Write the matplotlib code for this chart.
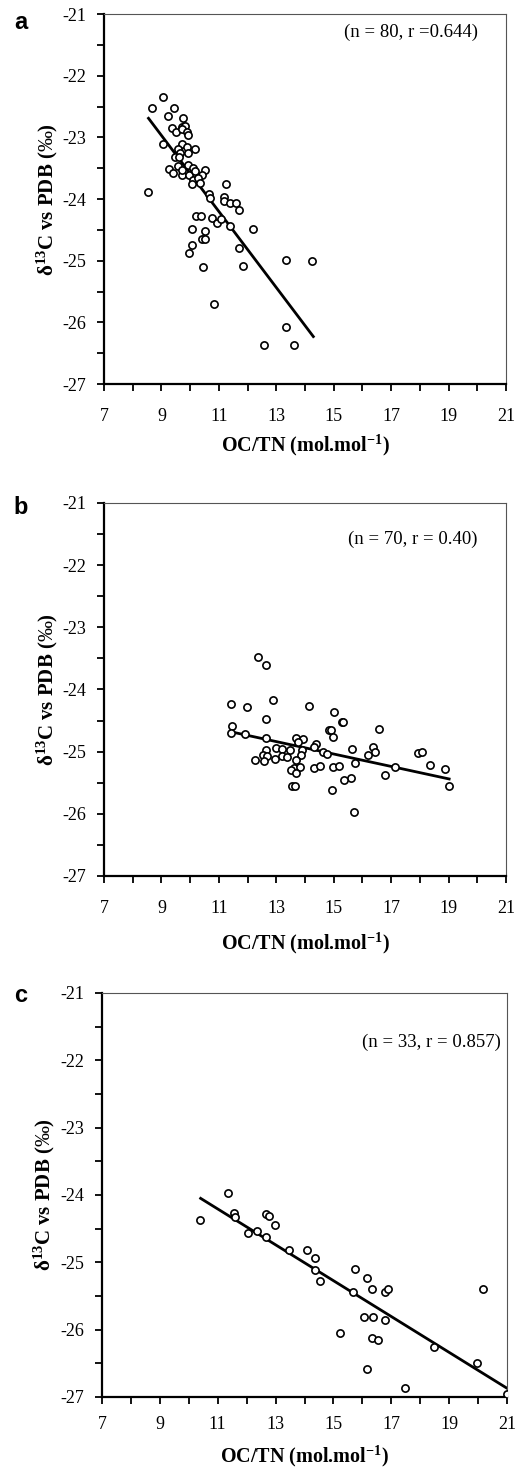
import matplotlib
matplotlib.use("Agg")
import matplotlib.pyplot as plt
from matplotlib.ticker import FixedLocator, MultipleLocator

plt.rcParams['font.family'] = ['Liberation Serif', 'DejaVu Serif']
plt.rcParams['mathtext.fontset'] = 'custom'
plt.rcParams['mathtext.rm'] = 'Liberation Serif'
plt.rcParams['mathtext.bf'] = 'Liberation Serif:bold'
plt.rcParams['mathtext.it'] = 'Liberation Serif:italic'
plt.rcParams['axes.unicode_minus'] = False

x_ticks = [7, 9, 11, 13, 15, 17, 19, 21]

# panel a
a_x = [9.04, 8.68, 9.45, 9.24, 9.76, 9.36, 9.71, 9.82, 9.51, 9.71, 9.90, 9.92,
       9.04, 9.71, 9.56, 9.88, 10.17, 9.65, 9.94, 9.47, 9.62, 9.59, 9.92, 10.11,
       9.28, 9.39, 9.71, 9.71, 9.97, 10.17, 10.52, 10.40, 10.09, 10.29, 10.05,
       10.34, 11.24, 8.53, 10.67, 10.69, 11.18, 11.19, 11.39, 11.59, 11.70, 10.21,
       10.38, 10.77, 10.93, 11.07, 11.39, 12.20, 10.05, 10.52, 10.40, 10.52, 10.05,
       9.96, 11.70, 13.33, 14.26, 10.44, 11.85, 10.83, 13.33, 12.57, 13.60]
a_y = [-22.35, -22.52, -22.52, -22.65, -22.68, -22.85, -22.83, -22.81, -22.91, -22.87,
       -22.91, -22.96, -23.11, -23.11, -23.18, -23.16, -23.18, -23.25, -23.25, -23.31,
       -23.31, -23.46, -23.44, -23.49, -23.51, -23.58, -23.61, -23.53, -23.61, -23.54,
       -23.53, -23.61, -23.69, -23.66, -23.76, -23.74, -23.75, -23.89, -23.91, -23.98,
       -23.97, -24.03, -24.06, -24.06, -24.18, -24.28, -24.27, -24.31, -24.39, -24.32,
       -24.44, -24.48, -24.48, -24.51, -24.65, -24.65, -24.74, -24.87, -24.80, -24.99,
       -25.00, -25.11, -25.08, -25.70, -26.08, -26.36, -26.36]
a_fit_x = [8.55, 14.29]
a_fit_y = [-22.69, -26.23]

# panel b
b_x = [12.36, 12.63, 11.41, 11.99, 12.90, 14.15, 12.63, 11.47, 11.41, 11.90, 12.63,
       14.84, 13.68, 13.94, 13.75, 14.38, 14.30, 12.98, 13.21, 13.48, 13.90, 12.64,
       14.64, 14.76, 12.54, 12.68, 13.19, 13.86, 12.94, 12.26, 12.57, 13.36, 13.68,
       13.60, 13.81, 14.30, 14.53, 15.00, 15.29, 15.33, 14.90, 14.99, 16.57, 15.63,
       16.36, 16.44, 16.21, 17.95, 18.07, 15.75, 18.36, 18.88, 14.99, 15.20, 17.14,
       13.55, 13.65, 13.50, 14.95, 15.70, 15.60, 15.35, 16.80, 19.00, 13.70]
b_y = [-23.48, -23.61, -24.24, -24.29, -24.17, -24.26, -24.48, -24.58, -24.70, -24.72,
       -24.78, -24.65, -24.78, -24.80, -24.84, -24.87, -24.93, -24.94, -24.96, -24.98,
       -24.98, -24.98, -25.01, -25.04, -25.06, -25.07, -25.07, -25.06, -25.12, -25.13,
       -25.15, -25.09, -25.13, -25.27, -25.25, -25.27, -25.23, -24.36, -24.53, -24.53,
       -24.65, -24.77, -24.63, -24.96, -24.93, -25.01, -25.06, -25.03, -25.01, -25.19,
       -25.21, -25.28, -25.24, -25.23, -25.24, -25.55, -25.55, -25.30, -25.62, -25.97,
       -25.42, -25.45, -25.38, -25.55, -25.35]
b_fit_x = [11.41, 19.02]
b_fit_y = [-24.68, -25.44]

# panel c
c_x = [11.37, 10.39, 11.57, 11.60, 12.67, 12.78, 12.98, 12.06, 12.37, 12.67, 13.47,
       14.07, 14.38, 14.38, 14.53, 15.75, 16.17, 15.68, 16.32, 16.78, 16.90, 20.16,
       16.05, 16.38, 16.78, 15.23, 16.35, 16.53, 18.48, 16.16, 19.95, 17.47, 21.00]
c_y = [-23.97, -24.37, -24.26, -24.32, -24.28, -24.31, -24.45, -24.56, -24.53, -24.63,
       -24.82, -24.82, -24.93, -25.11, -25.27, -25.10, -25.24, -25.44, -25.39, -25.44,
       -25.39, -25.39, -25.81, -25.81, -25.86, -26.05, -26.12, -26.15, -26.26, -26.59,
       -26.50, -26.87, -26.96]
c_fit_x = [10.41, 21.0]
c_fit_y = [-24.05, -26.87]

panels = [
    dict(letter='a', x=a_x, y=a_y, fx=a_fit_x, fy=a_fit_y, note='(n = 80, r =0.644)',
         note_xy=(20.03, -21.30), rect=[0.1977, 0.7384, 0.7643, 0.2520],
         xl=0.165, pad=12, let_y=0.985),
    dict(letter='b', x=b_x, y=b_y, fx=b_fit_x, fy=b_fit_y, note='(n = 70, r = 0.40)',
         note_xy=(20.0, -21.58), rect=[0.1977, 0.4033, 0.7643, 0.2541],
         xl=0.18, pad=12, let_y=0.654),
    dict(letter='c', x=c_x, y=c_y, fx=c_fit_x, fy=c_fit_y, note='(n = 33, r = 0.857)',
         note_xy=(20.79, -21.74), rect=[0.1939, 0.04837, 0.7700, 0.2752],
         xl=0.146, pad=9, let_y=0.322),
]

fig = plt.figure(figsize=(5.26, 14.68), dpi=100)

for p in panels:
    ax = fig.add_axes(p['rect'])
    ax.plot(p['x'], p['y'], ls='', marker='o', ms=5.2, mfc='white', mec='black', mew=1.2,
            zorder=3)
    ax.plot(p['fx'], p['fy'], color='black', lw=2.0, zorder=2)
    ax.set_xlim(7, 21)
    ax.set_ylim(-27, -21)
    ax.xaxis.set_major_locator(FixedLocator(x_ticks))
    ax.xaxis.set_minor_locator(MultipleLocator(1))
    ax.yaxis.set_major_locator(MultipleLocator(1))
    ax.yaxis.set_minor_locator(MultipleLocator(0.5))
    ax.tick_params(which='both', direction='out', length=5, width=1.3, top=False,
                   right=False, labelsize=13)
    ax.tick_params(axis='x', pad=p['pad'])
    ax.tick_params(axis='y', pad=8)
    for s in ['left', 'bottom']:
        ax.spines[s].set_linewidth(1.6)
    for s in ['top', 'right']:
        ax.spines[s].set_linewidth(0.8)
        ax.spines[s].set_color('#555555')
    ax.text(p['note_xy'][0], p['note_xy'][1], p['note'], ha='right', va='center',
            fontsize=13.5)
    ax.text(0.5, -p['xl'], r'OC/TN (mol.mol$^{\mathbf{-1}}$)', transform=ax.transAxes,
            ha='center', va='center', fontsize=14.5, fontweight='bold')
    ax.text(-0.142, 0.5, r'$\mathbf{\delta^{13}}$C vs PDB ($\mathit{‰}$)',
            transform=ax.transAxes, rotation=90, ha='center', va='center',
            fontsize=15, fontweight='bold')
    fig.text(0.04, p['let_y'], p['letter'], family='Liberation Sans', fontweight='bold',
             fontsize=17, ha='center', va='center')

fig.savefig('out.png', dpi=100)
